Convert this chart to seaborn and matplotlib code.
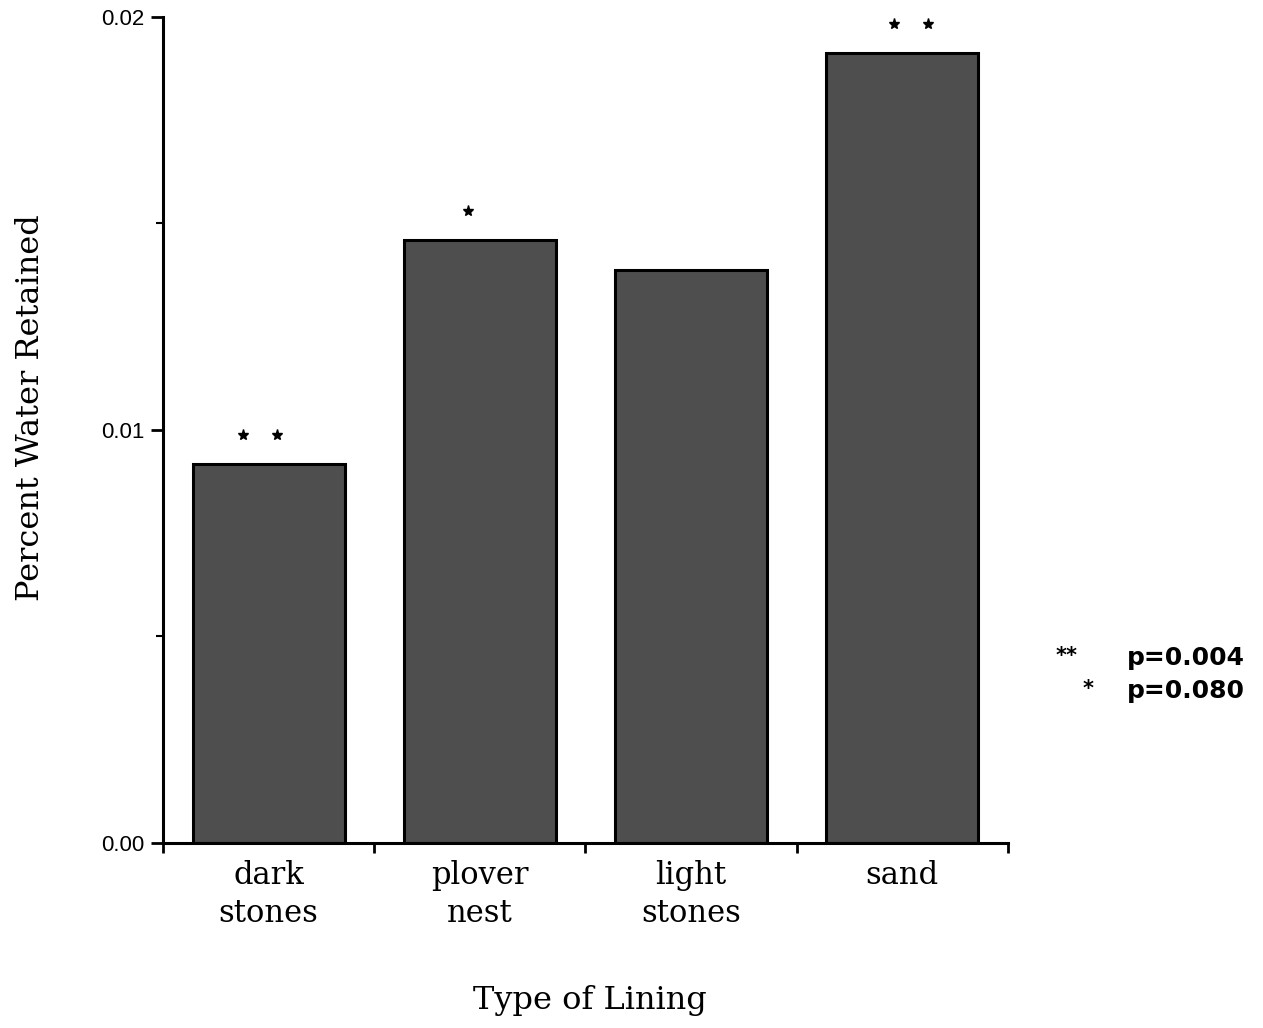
import numpy as np
import pandas as pd
import seaborn as sns
import matplotlib.pyplot as plt
from matplotlib.ticker import MultipleLocator

# data
linings = ["dark\nstones", "plover\nnest", "light\nstones", "sand"]
water_retained = [0.00918, 0.0146, 0.01387, 0.01913]
n_stars = [2, 1, 0, 2]
legend_marks = ["**", "*"]
legend_pvalues = ["p=0.004", "p=0.080"]

df = pd.DataFrame({"lining": linings, "retained": water_retained})

sns.set_style("white")
plt.rcParams.update({"text.color": "black", "axes.labelcolor": "black",
                     "xtick.color": "black", "ytick.color": "black"})
serif = ["DejaVu Serif"]
sans = ["Liberation Sans", "DejaVu Sans"]

fig = plt.figure(figsize=(12.63, 10.28), dpi=100)
ax = fig.add_axes([0.129, 0.180, 0.669, 0.8035])

sns.barplot(data=df, x="lining", y="retained", color="#4e4e4e",
            width=0.72, edgecolor="black", linewidth=2.2, saturation=1, ax=ax)

ax.set_xlim(-0.5, len(linings) - 0.5)
ax.set_ylim(0, 0.02)

# significance stars above bars
for i, (val, n) in enumerate(zip(water_retained, n_stars)):
    if n == 2:
        xs = [i - 0.12, i + 0.04] if i == 0 else [i - 0.04, i + 0.12]
    elif n == 1:
        xs = [i - 0.055]
    else:
        continue
    ax.plot(xs, [val + 0.0007] * n, linestyle="none", marker="*",
            markersize=8, color="black", clip_on=False)

# axes styling
for side in ["top", "right"]:
    ax.spines[side].set_visible(False)
for side in ["left", "bottom"]:
    ax.spines[side].set_linewidth(2.2)
    ax.spines[side].set_color("black")

ax.set_yticks([0.0, 0.01, 0.02])
ax.set_yticklabels(["0.00", "0.01", "0.02"], family=sans, fontsize=16)
ax.yaxis.set_minor_locator(MultipleLocator(0.005))
ax.tick_params(axis="y", which="major", direction="out", length=9, width=2, left=True, pad=4)
ax.tick_params(axis="y", which="minor", direction="out", length=5, width=1.5, left=True)

ax.set_xticks(range(len(linings)))
ax.set_xticklabels(linings, family=serif, fontsize=22, linespacing=1.3)
ax.tick_params(axis="x", which="major", length=0, pad=12)
ax.set_xticks(np.arange(len(linings) + 1) - 0.5, minor=True)
ax.tick_params(axis="x", which="minor", direction="out", length=7, width=2, bottom=True)

ax.set_xlabel("")
ax.set_ylabel("")
fig.text(0.467, 0.027, "Type of Lining", ha="center", va="center",
         family=serif, fontsize=23)
fig.text(0.024, 0.603, "Percent Water Retained", ha="center", va="center",
         rotation=90, family=serif, fontsize=23)

# p-value key
for k, (mark, pv) in enumerate(zip(legend_marks, legend_pvalues)):
    y = 0.360 - k * 0.032
    fig.text(0.8355 + k * 0.022, y + 0.002, mark, ha="left", va="center",
             family=["DejaVu Sans"], fontsize=15, fontweight="bold")
    fig.text(0.892, y, pv, ha="left", va="center", family=["DejaVu Sans"],
             fontsize=18, fontweight="bold")

fig.savefig("out.png", dpi=100)
